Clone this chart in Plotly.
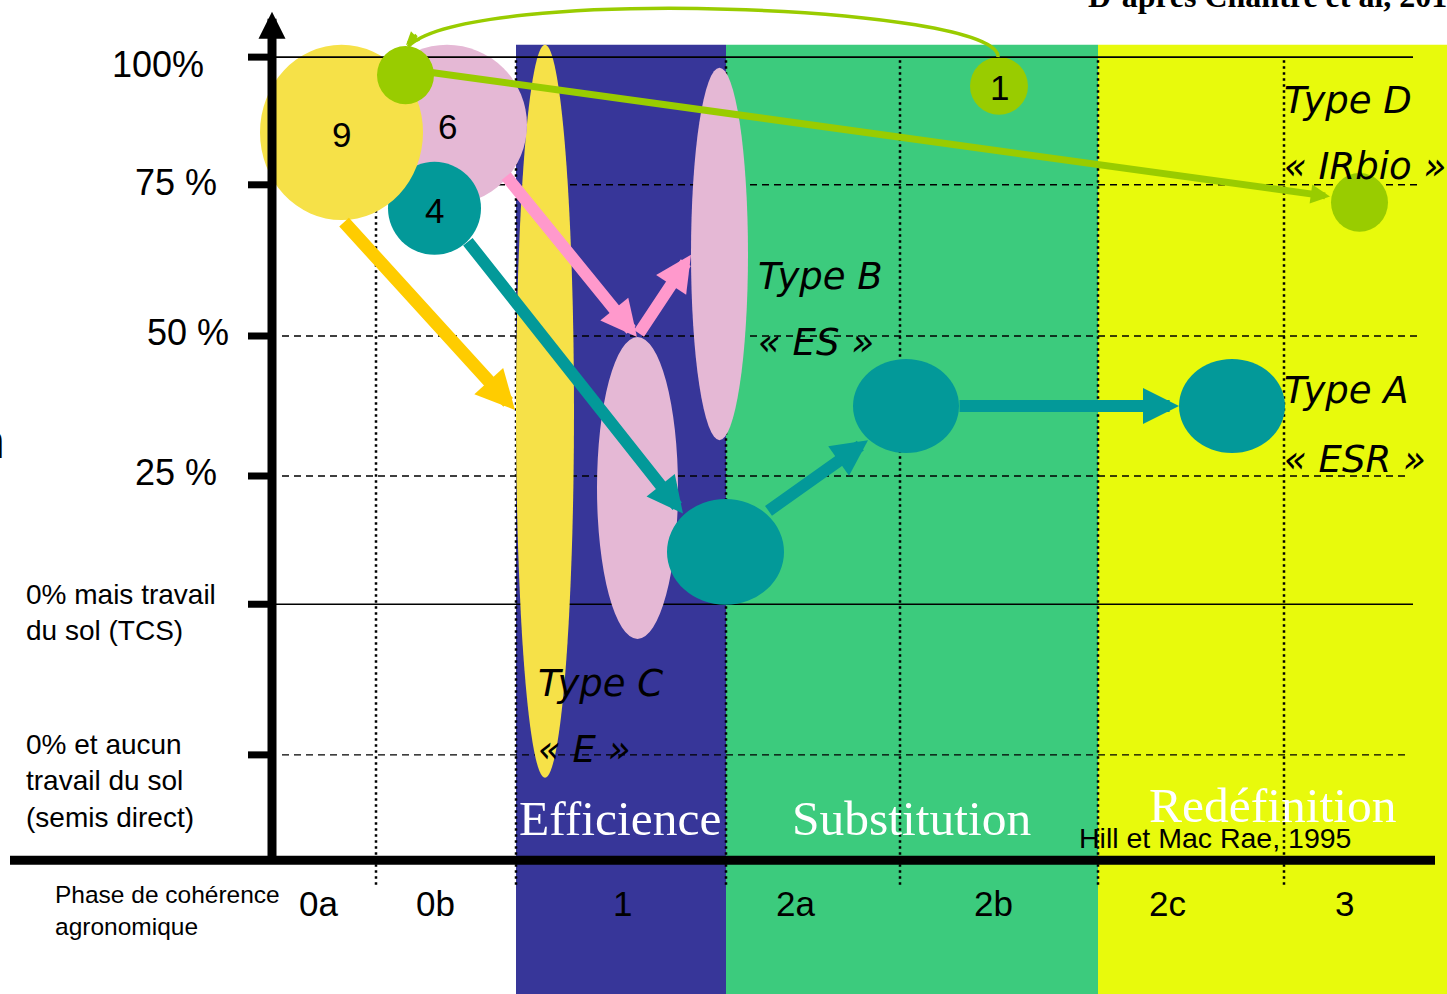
import plotly.graph_objects as go

# ---------------- data (schematic units: x = phase axis, y = adoption level axis) ----------------
phases = ["0a", "0b", "1", "2a", "2b", "2c", "3"]
phase_label_x = [4.6, 16.3, 35.0, 52.3, 72.1, 89.5, 107.2]
phase_bounds = [10.4, 24.4, 45.4, 62.8, 82.6, 101.2]

level_labels = ["0% et aucun<br>travail du sol<br>(semis direct)",
                "0% mais travail<br>du sol (TCS)", "25 %", "50 %", "75 %", "100%"]
level_pos = [-24.8, 2.1, 25.0, 50.0, 77.0, 99.8]
level_end = [113.6, 114.1, 113.6, 114.8, 114.8, 114.1]

band_names = ["Efficience", "Substitution", "Redéfinition"]
band_start = [24.4, 45.4, 82.6]
band_end = [45.4, 82.6, 125.0]

# groups of farms: x-range, y-range, colour, label (drawn in this order)
group_x = [(24.4, 30.2), (32.5, 40.6), (41.9, 47.6), (39.5, 51.2), (58.1, 68.7),
           (90.7, 101.3), (105.9, 111.6), (69.8, 75.6), (9.5, 25.5), (11.6, 20.9),
           (-1.2, 15.1), (10.5, 16.2)]
group_y = [(-28.9, 102.0), (-4.1, 49.8), (31.4, 97.9), (2.0, 20.9), (29.1, 45.9),
           (29.1, 45.9), (68.6, 79.1), (89.5, 99.8), (73.4, 102.0), (64.5, 81.1),
           (70.7, 102.0), (91.4, 101.8)]
group_kind = ["C", "B", "B", "A", "A", "A", "D", "D", "B", "A", "C", "D"]
group_label = ["", "", "", "", "", "", "", "1", "6", "4", "9", ""]

# trajectories (tail -> head)
traj_from = [(7.07, 70.6), (23.3, 78.8), (36.6, 50.2), (19.47, 67.1), (49.5, 18.6),
             (68.6, 37.5), (15.8, 97.1)]
traj_to = [(24.3, 36.8), (36.5, 49.8), (41.9, 64.5), (41.1, 18.3), (59.6, 31.4),
           (90.7, 37.5), (105.8, 74.9)]
traj_kind = ["Cy", "B", "B", "A", "A", "A", "D"]

type_texts = ["Type D", "«\u00a0IRbio\u00a0»", "Type B", "«\u00a0ES\u00a0»",
              "Type A", "«\u00a0ESR\u00a0»", "Type C", "«\u00a0E\u00a0»"]
type_x = [101.1, 101.1, 48.5, 48.5, 101.1, 101.1, 26.5, 26.5]
type_y = [92.1, 80.2, 60.6, 48.8, 40.2, 28.0, -12.0, -23.9]

# ---------------- styles ----------------
X_RANGE = [-27.2, 117.5]
Y_RANGE = [-67.5, 110.0]
band_colors = ["#373699", "#3CCB7D", "#E8FA0C"]
kind_color = {"A": "#039999", "B": "#E5B8D5", "C": "#F6E148", "D": "#99CC00",
              "Cy": "#FFCC00"}
arrow_color = {"A": "#039999", "B": "#FF99CC", "Cy": "#FFCC00", "D": "#99CC00"}
arrow_w = {"A": 12, "B": 12, "Cy": 13, "D": 7}
arrow_s = {"A": 0.6, "B": 0.6, "Cy": 0.6, "D": 0.55}
SANS = "Liberation Sans, Arial, sans-serif"
SERIF = "Liberation Serif, Times New Roman, serif"
ITAL = "DejaVu Sans, Verdana, sans-serif"

shapes = []
ann = []

# bands
for x0, x1, c in zip(band_start, band_end, band_colors):
    shapes.append(dict(type="rect", xref="x", yref="y", x0=x0, x1=x1, y0=-75, y1=102.0,
                       fillcolor=c, line=dict(width=0), layer="above"))

# vertical dotted phase separators
for b in phase_bounds:
    shapes.append(dict(type="line", xref="x", yref="y", x0=b, x1=b, y0=-48.0, y1=level_pos[-1],
                       line=dict(color="black", width=2.5, dash="2.5px,3.5px")))

# horizontal level lines (except the top one, drawn later) + ticks
for i, (lv, le) in enumerate(zip(level_pos, level_end)):
    solid = i in (1, 5)
    if i != 5:
        shapes.append(dict(type="line", xref="x", yref="y",
                           x0=0 if solid else 1.0, x1=le, y0=lv, y1=lv,
                           line=dict(color="black", width=1.6 if solid else 1.4,
                                     dash="solid" if solid else "7px,5px")))
    shapes.append(dict(type="line", xref="x", yref="y", x0=-2.4, x1=0, y0=lv, y1=lv,
                       line=dict(color="black", width=7)))

# groups (ellipses)
for i, ((x0, x1), (y0, y1), k) in enumerate(zip(group_x, group_y, group_kind)):
    if i == len(group_x) - 1:
        # top level line is drawn over the large groups but under the last circle
        shapes.append(dict(type="line", xref="x", yref="y", x0=0, x1=level_end[5],
                           y0=level_pos[5], y1=level_pos[5],
                           line=dict(color="black", width=1.6)))
    shapes.append(dict(type="circle", xref="x", yref="y", x0=x0, x1=x1, y0=y0, y1=y1,
                       fillcolor=kind_color[k], line=dict(width=0)))

# curved arrow (return link) from circle "1" to the top circle
shapes.append(dict(type="path", xref="x", yref="y",
                   path="M 72.6,99.8 C 72.8,109.1 19.8,112.7 13.6,101.7",
                   line=dict(color="#99CC00", width=3.5)))

# horizontal axis
shapes.append(dict(type="line", xref="x", yref="y", x0=-26.2, x1=116.3, y0=-43.6, y1=-43.6,
                   line=dict(color="black", width=9)))

# vertical axis with arrow
ann.append(dict(x=0, y=107.9, ax=0, ay=-43.6, xref="x", yref="y", axref="x", ayref="y",
                text="", showarrow=True, arrowhead=2, arrowsize=0.6, arrowwidth=9,
                arrowcolor="black", standoff=0))

# curved arrow head
ann.append(dict(x=13.4, y=101.96, ax=14.6, ay=104.0, xref="x", yref="y", axref="x", ayref="y",
                text="", showarrow=True, arrowhead=2, arrowsize=0.75, arrowwidth=3.5,
                arrowcolor="#99CC00", standoff=0))

# trajectories
for (fx, fy), (tx, ty), k in zip(traj_from, traj_to, traj_kind):
    ann.append(dict(x=tx, y=ty, ax=fx, ay=fy, xref="x", yref="y", axref="x", ayref="y",
                    text="", showarrow=True, arrowhead=2, arrowsize=arrow_s[k],
                    arrowwidth=arrow_w[k], arrowcolor=arrow_color[k], standoff=0))

# group labels
for (x0, x1), (y0, y1), lab in zip(group_x, group_y, group_label):
    if lab:
        ann.append(dict(x=(x0 + x1) / 2, y=(y0 + y1) / 2 - 0.3, xref="x", yref="y", text=lab,
                        showarrow=False, font=dict(family=SANS, size=35, color="black")))

# level labels
lab_x = [-24.7, -24.7, -5.4, -4.2, -5.4, -6.7]
lab_y = [-29.5, 0.7, 25.6, 50.6, 77.4, 98.4]
for i, (t, lx, ly) in enumerate(zip(level_labels, lab_x, lab_y)):
    big = i >= 2
    ann.append(dict(x=lx, y=ly, xref="x", yref="y", text=t, showarrow=False,
                    xanchor="right" if big else "left", align="left", borderpad=0,
                    font=dict(family=SANS, size=36 if big else 28, color="black")))

# phase labels
for p, px in zip(phases, phase_label_x):
    ann.append(dict(x=px, y=-51.3, xref="x", yref="y", text=p, showarrow=False,
                    font=dict(family=SANS, size=35, color="black")))
ann.append(dict(x=-21.8, y=-52.6, xref="x", yref="y", text="Phase de cohérence<br>agronomique",
                showarrow=False, xanchor="left", align="left", borderpad=0,
                font=dict(family=SANS, size=24.5, color="black")))

# type labels
for t, tx, ty in zip(type_texts, type_x, type_y):
    ann.append(dict(x=tx, y=ty, xref="x", yref="y", text=t, showarrow=False,
                    xanchor="left", borderpad=0,
                    font=dict(family=ITAL, size=37, color="black", style="italic")))

# band titles
band_tx = [34.8, 63.9, 100.0]
band_ty = [-36.1, -36.1, -33.9]
for t, tx, ty in zip(band_names, band_tx, band_ty):
    ann.append(dict(x=tx, y=ty, xref="x", yref="y", text=t, showarrow=False,
                    font=dict(family=SERIF, size=49.5, color="white")))

ann.append(dict(x=94.3, y=-39.7, xref="x", yref="y", text="Hill et Mac Rae, 1995",
                showarrow=False, font=dict(family=SANS, size=28.5, color="black")))

ann.append(dict(x=81.5, y=107.3, xref="x", yref="y", text="<b>D’après Chantre et al, 2014</b>",
                showarrow=False, xanchor="left", yanchor="bottom", borderpad=0,
                font=dict(family=SERIF, size=32, color="black")))

ann.append(dict(x=-26.6, y=31.2, xref="x", yref="y", text="n", showarrow=False,
                xanchor="right", borderpad=0,
                font=dict(family=SANS, size=48, color="black")))

fig = go.Figure()
fig.update_layout(
    width=1447, height=994, margin=dict(l=0, r=0, t=0, b=0),
    paper_bgcolor="white", plot_bgcolor="white", showlegend=False,
    xaxis=dict(range=X_RANGE, visible=False, fixedrange=True),
    yaxis=dict(range=Y_RANGE, visible=False, fixedrange=True),
    shapes=shapes, annotations=ann,
)
fig.write_html("out.html", config={"displayModeBar": False},
               post_script="document.body.style.margin='0';document.body.style.overflow='hidden';")
